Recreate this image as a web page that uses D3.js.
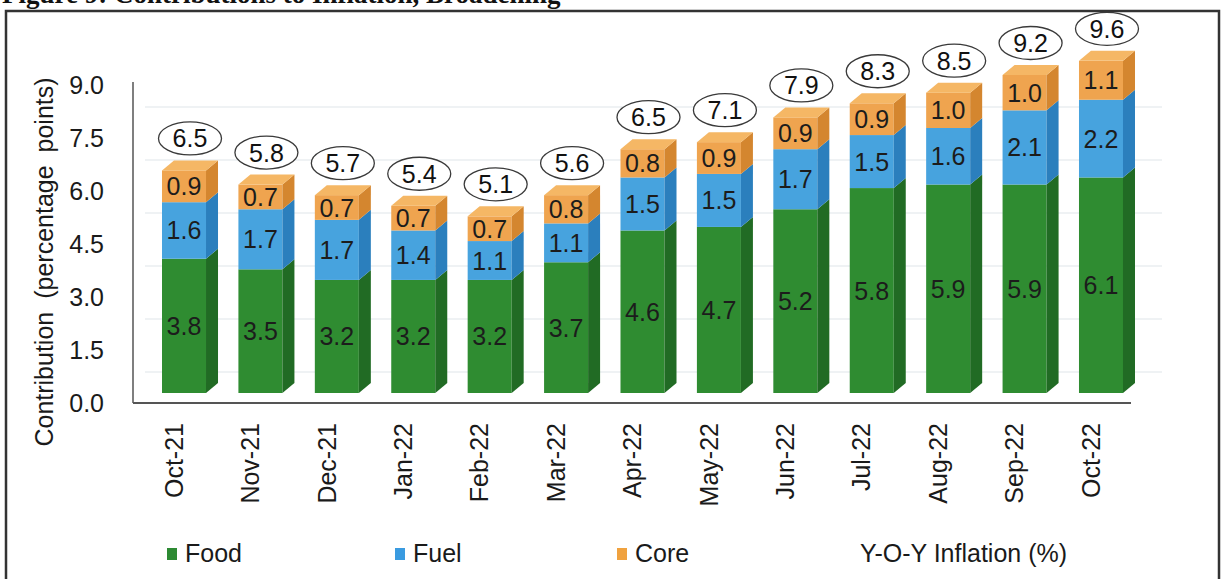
<!DOCTYPE html>
<html>
<head>
<meta charset="utf-8">
<script src="https://cdn.jsdelivr.net/npm/d3@7"></script>
<style>
  html, body { margin: 0; padding: 0; background: #fff; }
  svg { display: block; }
  text { font-family: "Liberation Sans", Arial, sans-serif; }
</style>
</head>
<body>
<script>
// Monthly contributions to headline inflation (percentage points)
const months = ["Oct-21", "Nov-21", "Dec-21", "Jan-22", "Feb-22", "Mar-22", "Apr-22",
                "May-22", "Jun-22", "Jul-22", "Aug-22", "Sep-22", "Oct-22"];
const food = [3.8, 3.5, 3.2, 3.2, 3.2, 3.7, 4.6, 4.7, 5.2, 5.8, 5.9, 5.9, 6.1];
const fuel = [1.6, 1.7, 1.7, 1.4, 1.1, 1.1, 1.5, 1.5, 1.7, 1.5, 1.6, 2.1, 2.2];
const core = [0.9, 0.7, 0.7, 0.7, 0.7, 0.8, 0.8, 0.9, 0.9, 0.9, 1.0, 1.0, 1.1];
const yoyInflation = [6.5, 5.8, 5.7, 5.4, 5.1, 5.6, 6.5, 7.1, 7.9, 8.3, 8.5, 9.2, 9.6];
const yTicks = [0, 1.5, 3.0, 4.5, 6.0, 7.5, 9.0];
const seriesNames = ["Food", "Fuel", "Core"];

const W = 1223, H = 579;
const svg = d3.select("body").append("svg").attr("width", W).attr("height", H);

// colours per series: front, side, top
const palette = {
  Food: { front: "#2f8c31", side: "#216b24", top: "#3c9c3d", key: "#2d8a33" },
  Fuel: { front: "#47a3de", side: "#2b7fbd", top: "#62b3e6", key: "#3a9be0" },
  Core: { front: "#efa44f", side: "#d4862f", top: "#f5b765", key: "#f0a23f" }
};

// figure caption (mostly above the visible area) and frame
svg.append("text")
  .attr("x", 2).attr("y", 3)
  .style("font-family", "'Liberation Serif', 'Times New Roman', serif")
  .style("font-weight", "bold").style("font-size", "27px").attr("fill", "#111")
  .text("Figure 9: Contributions to Inflation, Broadening");
svg.append("rect")
  .attr("x", 6).attr("y", 11).attr("width", 1213).attr("height", 640)
  .attr("fill", "none").attr("stroke", "#333").attr("stroke-width", 2.5);

// scales
const x = d3.scaleBand().domain(months).range([145.8, 1139.2])
  .paddingInner(0.424).paddingOuter(0.212);
const yAxisScale = d3.scaleLinear().domain([0, 9]).range([403, 85]);
const yBar = d3.scaleLinear().domain([0, 9]).range([393, 75]);
const depthX = 12, depthY = 10;

// back-wall gridlines (projected slightly below the tick labels)
const gridShift = 22;
svg.append("g").selectAll("line")
  .data(yTicks.filter(v => v > 0))
  .join("line")
  .attr("x1", 145).attr("x2", 1162)
  .attr("y1", d => yAxisScale(d) + gridShift).attr("y2", d => yAxisScale(d) + gridShift)
  .attr("stroke", "#dfe5ea").attr("stroke-width", 1.2);

// axis frame lines
svg.append("line").attr("x1", 133).attr("x2", 133).attr("y1", 82).attr("y2", yAxisScale(0))
  .attr("stroke", "#555").attr("stroke-width", 1.5);
svg.append("line").attr("x1", 133).attr("x2", 1131).attr("y1", yAxisScale(0)).attr("y2", yAxisScale(0))
  .attr("stroke", "#555").attr("stroke-width", 1.8);

// y axis tick labels
const yAxis = d3.axisLeft(yAxisScale).tickValues(yTicks).tickFormat(d3.format(".1f"))
  .tickSize(0).tickPadding(0);
const yg = svg.append("g").attr("transform", "translate(104,0)").call(yAxis);
yg.select(".domain").remove();
yg.selectAll("text").style("font-size", "25px").attr("fill", "#1a1a1a")
  .style("font-family", "'Liberation Sans', Arial, sans-serif");

// y axis title
svg.append("text")
  .attr("transform", "translate(44,262) rotate(-90)")
  .attr("text-anchor", "middle").attr("dy", "0.35em")
  .style("font-size", "25px").attr("fill", "#1a1a1a")
  .style("word-spacing", "6px")
  .text("Contribution (percentage points)");

// x category labels
const xAxis = d3.axisBottom(x).tickSize(0).tickPadding(0);
const xg = svg.append("g").attr("transform", "translate(-10,0)").call(xAxis);
xg.select(".domain").remove();
xg.selectAll(".tick text")
  .attr("transform", "translate(0,423) rotate(-90)")
  .attr("y", 0).attr("x", 0).attr("dy", "0.35em")
  .attr("text-anchor", "end")
  .style("font-size", "25px").attr("fill", "#1a1a1a")
  .style("font-family", "'Liberation Sans', Arial, sans-serif");

// stacked data
const rows = months.map((m, i) => ({ month: m, Food: food[i], Fuel: fuel[i], Core: core[i], yoy: yoyInflation[i] }));
const stacked = d3.stack().keys(seriesNames)(rows);

const bars = svg.append("g");
rows.forEach((row, i) => {
  const g = bars.append("g");
  const x0 = x(row.month), bw = x.bandwidth();
  stacked.forEach((layer, li) => {
    const seg = layer[i];
    const name = layer.key;
    const c = palette[name];
    const yTop = yBar(seg[1]), yBot = yBar(seg[0]);
    g.append("rect").attr("x", x0).attr("y", yTop).attr("width", bw).attr("height", yBot - yTop)
      .attr("fill", c.front);
    g.append("polygon")
      .attr("points", [[x0 + bw, yBot], [x0 + bw + depthX, yBot - depthY],
                       [x0 + bw + depthX, yTop - depthY], [x0 + bw, yTop]].map(p => p.join(",")).join(" "))
      .attr("fill", c.side);
    if (li === stacked.length - 1) {
      g.append("polygon")
        .attr("points", [[x0, yTop], [x0 + depthX, yTop - depthY],
                         [x0 + bw + depthX, yTop - depthY], [x0 + bw, yTop]].map(p => p.join(",")).join(" "))
        .attr("fill", c.top);
    }
    g.append("text")
      .attr("x", x0 + bw / 2).attr("y", (yTop + yBot) / 2)
      .attr("dy", "0.36em").attr("text-anchor", "middle")
      .style("font-size", "25px").attr("fill", "#1c1c1c")
      .text(d3.format(".1f")(name === "Food" ? row.Food : name === "Fuel" ? row.Fuel : row.Core));
  });

  // headline inflation bubble above the stack
  const total = row.Food + row.Fuel + row.Core;
  const cx = x0 + bw / 2 + depthX / 2;
  const cy = yBar(total) - depthY - 22;
  g.append("ellipse").attr("cx", cx).attr("cy", cy).attr("rx", 31.5).attr("ry", 16.5)
    .attr("fill", "#fff").attr("stroke", "#3a3a3a").attr("stroke-width", 1.3);
  g.append("text").attr("x", cx).attr("y", cy).attr("dy", "0.36em").attr("text-anchor", "middle")
    .style("font-size", "25px").attr("fill", "#111")
    .text(d3.format(".1f")(row.yoy));
});

// legend
const legendItems = [
  { name: "Food", x: 167 },
  { name: "Fuel", x: 395 },
  { name: "Core", x: 617 }
];
const lg = svg.append("g");
legendItems.forEach(item => {
  lg.append("rect").attr("x", item.x).attr("y", 548).attr("width", 10).attr("height", 12)
    .attr("fill", palette[item.name].key);
  lg.append("text").attr("x", item.x + 18).attr("y", 562)
    .style("font-size", "25px").attr("fill", "#1a1a1a").text(item.name);
});
lg.append("text").attr("x", 860).attr("y", 562)
  .style("font-size", "25px").attr("fill", "#1a1a1a").text("Y-O-Y Inflation (%)");
</script>
</body>
</html>
